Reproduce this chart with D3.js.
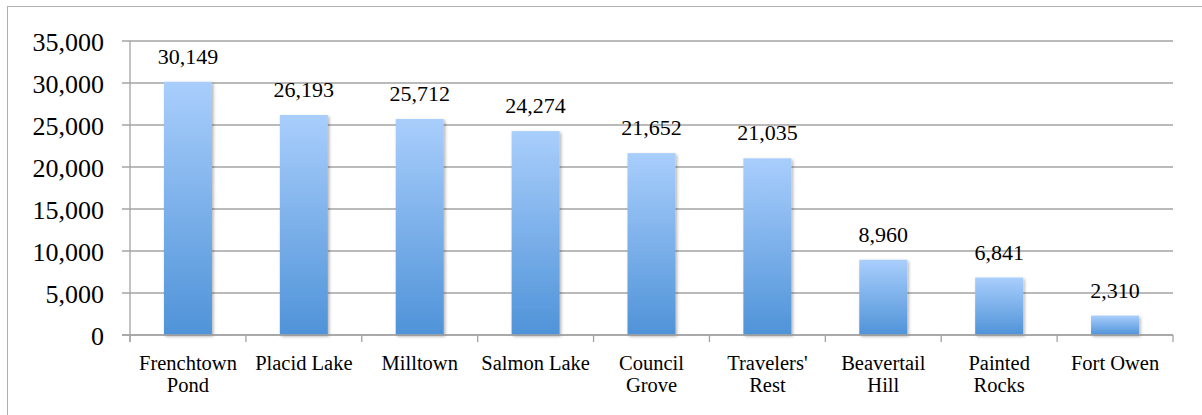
<!DOCTYPE html>
<html>
<head>
<meta charset="utf-8">
<script src="https://cdn.jsdelivr.net/npm/d3@7"></script>
<style>
  body { margin: 0; background: #fff; }
  text { font-family: "Liberation Serif", "Times New Roman", serif; fill: #000; }
</style>
</head>
<body>
<div id="my_dataviz"></div>
<script>
// data
const sites = ["Frenchtown Pond", "Placid Lake", "Milltown", "Salmon Lake", "Council Grove",
               "Travelers' Rest", "Beavertail Hill", "Painted Rocks", "Fort Owen"];
const visitors = [30149, 26193, 25712, 24274, 21652, 21035, 8960, 6841, 2310];
const yTicks = [0, 5000, 10000, 15000, 20000, 25000, 30000, 35000];

// dimensions
const W = 1202, H = 415;
const margin = {top: 41, right: 29, bottom: 80, left: 130},
    width = W - margin.left - margin.right,
    height = H - margin.top - margin.bottom;

let svg = d3.select("#my_dataviz")
  .append("svg")
    .attr("width", W)
    .attr("height", H);

// outer frame
svg.append("rect")
  .attr("x", 7.5).attr("y", 6.5)
  .attr("width", 1200).attr("height", 420)
  .attr("fill", "none")
  .attr("stroke", "#b0b0b0")
  .attr("stroke-width", 1);

let defs = svg.append("defs");
let grad = defs.append("linearGradient")
  .attr("id", "barGrad")
  .attr("x1", 0).attr("y1", 0).attr("x2", 0).attr("y2", 1);
grad.append("stop").attr("offset", "0%").attr("stop-color", "#a9cefc");
grad.append("stop").attr("offset", "100%").attr("stop-color", "#4f93d8");

let shadow = defs.append("filter")
  .attr("id", "shadow")
  .attr("x", "-20%").attr("y", "-20%").attr("width", "150%").attr("height", "150%");
shadow.append("feDropShadow")
  .attr("dx", 1.5).attr("dy", 1.5).attr("stdDeviation", 1.5)
  .attr("flood-color", "#000").attr("flood-opacity", 0.3);

let g = svg.append("g")
  .attr("transform", "translate(" + margin.left + "," + margin.top + ")");

// scales
let x = d3.scaleBand()
  .domain(sites)
  .range([0, width])
  .paddingInner(0)
  .paddingOuter(0);

let y = d3.scaleLinear()
  .domain([0, 35000])
  .range([height, 0]);

// gridlines
g.append("g")
  .selectAll("line")
  .data(yTicks)
  .enter()
  .append("line")
    .attr("x1", -8)
    .attr("x2", width)
    .attr("y1", d => y(d))
    .attr("y2", d => y(d))
    .attr("stroke", "#a3a3a3")
    .attr("stroke-width", 1.3);

// Y axis
let yAxis = d3.axisLeft(y)
  .tickValues(yTicks)
  .tickSize(0)
  .tickPadding(26)
  .tickFormat(d3.format(","));
g.append("g")
  .attr("class", "y-axis")
  .call(yAxis)
  .call(a => a.select(".domain").remove())
  .selectAll("text")
    .style("font-size", "26px")
    .attr("dy", "0.36em");

g.append("line")
  .attr("x1", 0).attr("x2", 0)
  .attr("y1", y(35000)).attr("y2", height + 7)
  .attr("stroke", "#a3a3a3")
  .attr("stroke-width", 1.3);

// X axis
let xAxis = d3.axisBottom(x).tickSize(0).tickPadding(0);
let xg = g.append("g")
  .attr("class", "x-axis")
  .attr("transform", "translate(0," + height + ")")
  .call(xAxis);
xg.select(".domain").remove();
xg.selectAll(".tick line").remove();

// tick marks on band edges
g.append("g")
  .selectAll("line")
  .data(sites.map((s, i) => i).concat([sites.length]))
  .enter()
  .append("line")
    .attr("x1", i => i * x.step())
    .attr("x2", i => i * x.step())
    .attr("y1", height)
    .attr("y2", height + 7)
    .attr("stroke", "#a3a3a3")
    .attr("stroke-width", 1.3);

// wrapped category labels
xg.selectAll(".tick text")
  .style("font-size", "20.5px")
  .attr("y", 0)
  .attr("dy", 0)
  .each(function(d) {
    let t = d3.select(this);
    t.text(null);
    let words = d.split(" ");
    let lines = [d];
    if (words.length > 1) {
      let probe = t.append("tspan").text(d);
      let w = probe.node().getComputedTextLength();
      probe.remove();
      if (w > x.step()) lines = [words.slice(0, -1).join(" "), words[words.length - 1]];
    }
    lines.forEach((ln, k) => {
      t.append("tspan")
        .attr("x", 0)
        .attr("y", 35 + k * 21.5)
        .text(ln);
    });
  });

// bars
g.selectAll("myRect")
  .data(visitors)
  .enter()
  .append("rect")
    .attr("x", (d, i) => x(sites[i]) + (x.bandwidth() - 48) / 2)
    .attr("y", d => y(d))
    .attr("width", 48)
    .attr("height", d => height - y(d))
    .attr("fill", "url(#barGrad)")
    .attr("filter", "url(#shadow)");

// value labels
g.selectAll("myLabel")
  .data(visitors)
  .enter()
  .append("text")
    .attr("x", (d, i) => x(sites[i]) + x.bandwidth() / 2)
    .attr("y", d => y(d) - 18)
    .attr("text-anchor", "middle")
    .style("font-size", "22px")
    .text(d => d3.format(",")(d));

// redraw the zero line over the bar bottoms
g.append("line")
  .attr("x1", -8).attr("x2", width)
  .attr("y1", y(0)).attr("y2", y(0))
  .attr("stroke", "#a3a3a3")
  .attr("stroke-width", 1.3);
</script>
</body>
</html>
